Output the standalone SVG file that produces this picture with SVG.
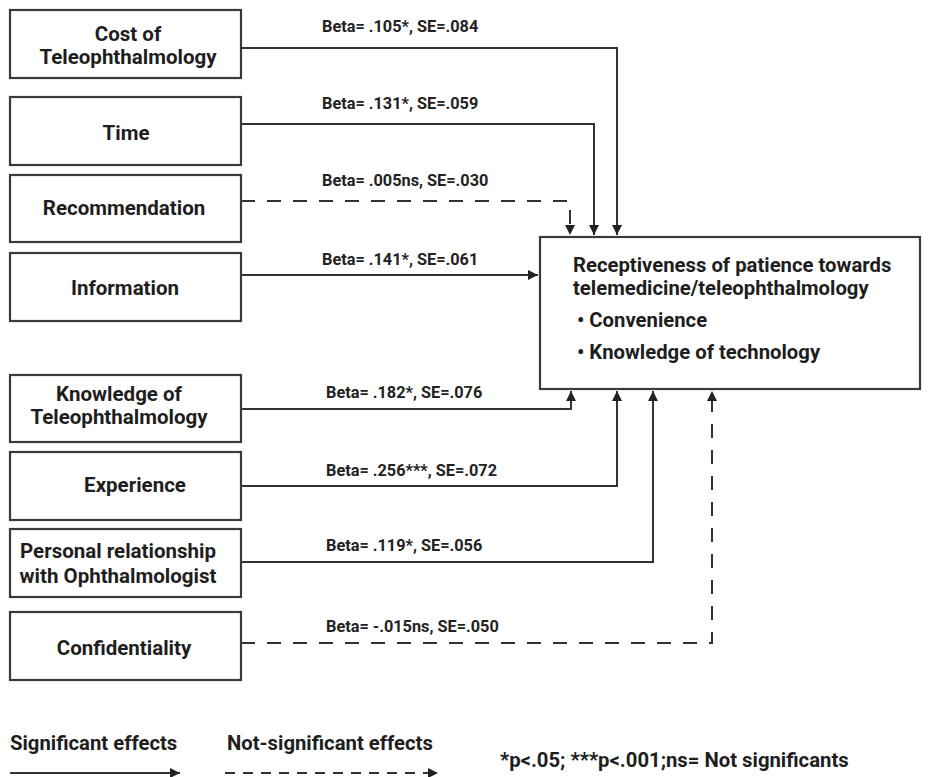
<svg xmlns="http://www.w3.org/2000/svg" width="928" height="777" viewBox="0 0 928 777">
<defs>
<style>
.box{fill:#fff;stroke:#3a3a3a;stroke-width:2.2}
.lbl{font-family:Roboto,"Liberation Sans",sans-serif;font-weight:bold;font-size:20.5px;fill:#1e1e1e;text-anchor:middle}
.big{font-family:Roboto,"Liberation Sans",sans-serif;font-weight:bold;font-size:20.3px;fill:#1e1e1e}
.beta{font-family:Roboto,"Liberation Sans",sans-serif;font-weight:bold;font-size:16.3px;fill:#222}
.sig{fill:none;stroke:#333;stroke-width:2}
.ns{fill:none;stroke:#333;stroke-width:2;stroke-dasharray:14,12}
</style>
<marker id="ah" viewBox="0 0 10 10" refX="10" refY="5" markerWidth="5" markerHeight="5" orient="auto" markerUnits="strokeWidth">
<path d="M0,0 L10,5 L0,10 z" fill="#222"/>
</marker>
</defs>
<rect width="928" height="777" fill="#fff"/>

<g id="connectors">
<path class="sig" d="M241,48 H617 V235" marker-end="url(#ah)"/>
<path class="sig" d="M241,124 H594 V235" marker-end="url(#ah)"/>
<path class="ns" d="M241,201 H570 V235" marker-end="url(#ah)"/>
<path class="sig" d="M241,275 H538" marker-end="url(#ah)"/>
<path class="sig" d="M241,409 H571 V391" marker-end="url(#ah)"/>
<path class="sig" d="M241,486 H617 V391" marker-end="url(#ah)"/>
<path class="sig" d="M241,562 H653 V391" marker-end="url(#ah)"/>
<path class="ns" d="M241,643 H712 V391" marker-end="url(#ah)"/>
<text class="beta" x="322" y="32">Beta= .105*, SE=.084</text>
<text class="beta" x="322" y="109">Beta= .131*, SE=.059</text>
<text class="beta" x="322" y="186">Beta= .005ns, SE=.030</text>
<text class="beta" x="322" y="265">Beta= .141*, SE=.061</text>
<text class="beta" x="326" y="398">Beta= .182*, SE=.076</text>
<text class="beta" x="326" y="476">Beta= .256***, SE=.072</text>
<text class="beta" x="326" y="551">Beta= .119*, SE=.056</text>
<text class="beta" x="326" y="632">Beta= -.015ns, SE=.050</text>
</g>

<g id="n-cost"><rect class="box" x="10" y="10" width="231" height="68"/>
<text class="lbl" x="128" y="41">Cost of</text><text class="lbl" x="128" y="64">Teleophthalmology</text></g>
<g id="n-time"><rect class="box" x="10" y="97" width="231" height="68"/>
<text class="lbl" x="126" y="140">Time</text></g>
<g id="n-rec"><rect class="box" x="10" y="175" width="231" height="67"/>
<text class="lbl" x="124" y="215">Recommendation</text></g>
<g id="n-info"><rect class="box" x="10" y="253" width="231" height="68"/>
<text class="lbl" x="125" y="295">Information</text></g>
<g id="n-know"><rect class="box" x="10" y="375" width="231" height="67"/>
<text class="lbl" x="119" y="401">Knowledge of</text><text class="lbl" x="119" y="424">Teleophthalmology</text></g>
<g id="n-exp"><rect class="box" x="10" y="452" width="231" height="68"/>
<text class="lbl" x="135" y="492">Experience</text></g>
<g id="n-pers"><rect class="box" x="10" y="529" width="231" height="68"/>
<text class="lbl" x="118" y="558">Personal relationship</text><text class="lbl" x="118" y="583">with Ophthalmologist</text></g>
<g id="n-conf"><rect class="box" x="10" y="612" width="231" height="68"/>
<text class="lbl" x="124" y="655">Confidentiality</text></g>

<g id="n-recept"><rect class="box" x="540" y="237" width="380" height="152"/>
<text class="big" x="573" y="272">Receptiveness of patience towards</text>
<text class="big" x="573" y="295">telemedicine/teleophthalmology</text>
<text class="big" x="577" y="327">• Convenience</text>
<text class="big" x="577" y="359">• Knowledge of technology</text></g>

<g id="legend">
<text class="big" x="10" y="750">Significant effects</text>
<path class="sig" d="M10,773 H180" marker-end="url(#ah)"/>
<text class="big" x="227" y="750">Not-significant effects</text>
<path class="sig" d="M225,773 H438" stroke-dasharray="10,8" marker-end="url(#ah)"/>
<text class="big" x="500" y="767">*p&lt;.05; ***p&lt;.001;ns= Not significants</text>
</g>
</svg>
